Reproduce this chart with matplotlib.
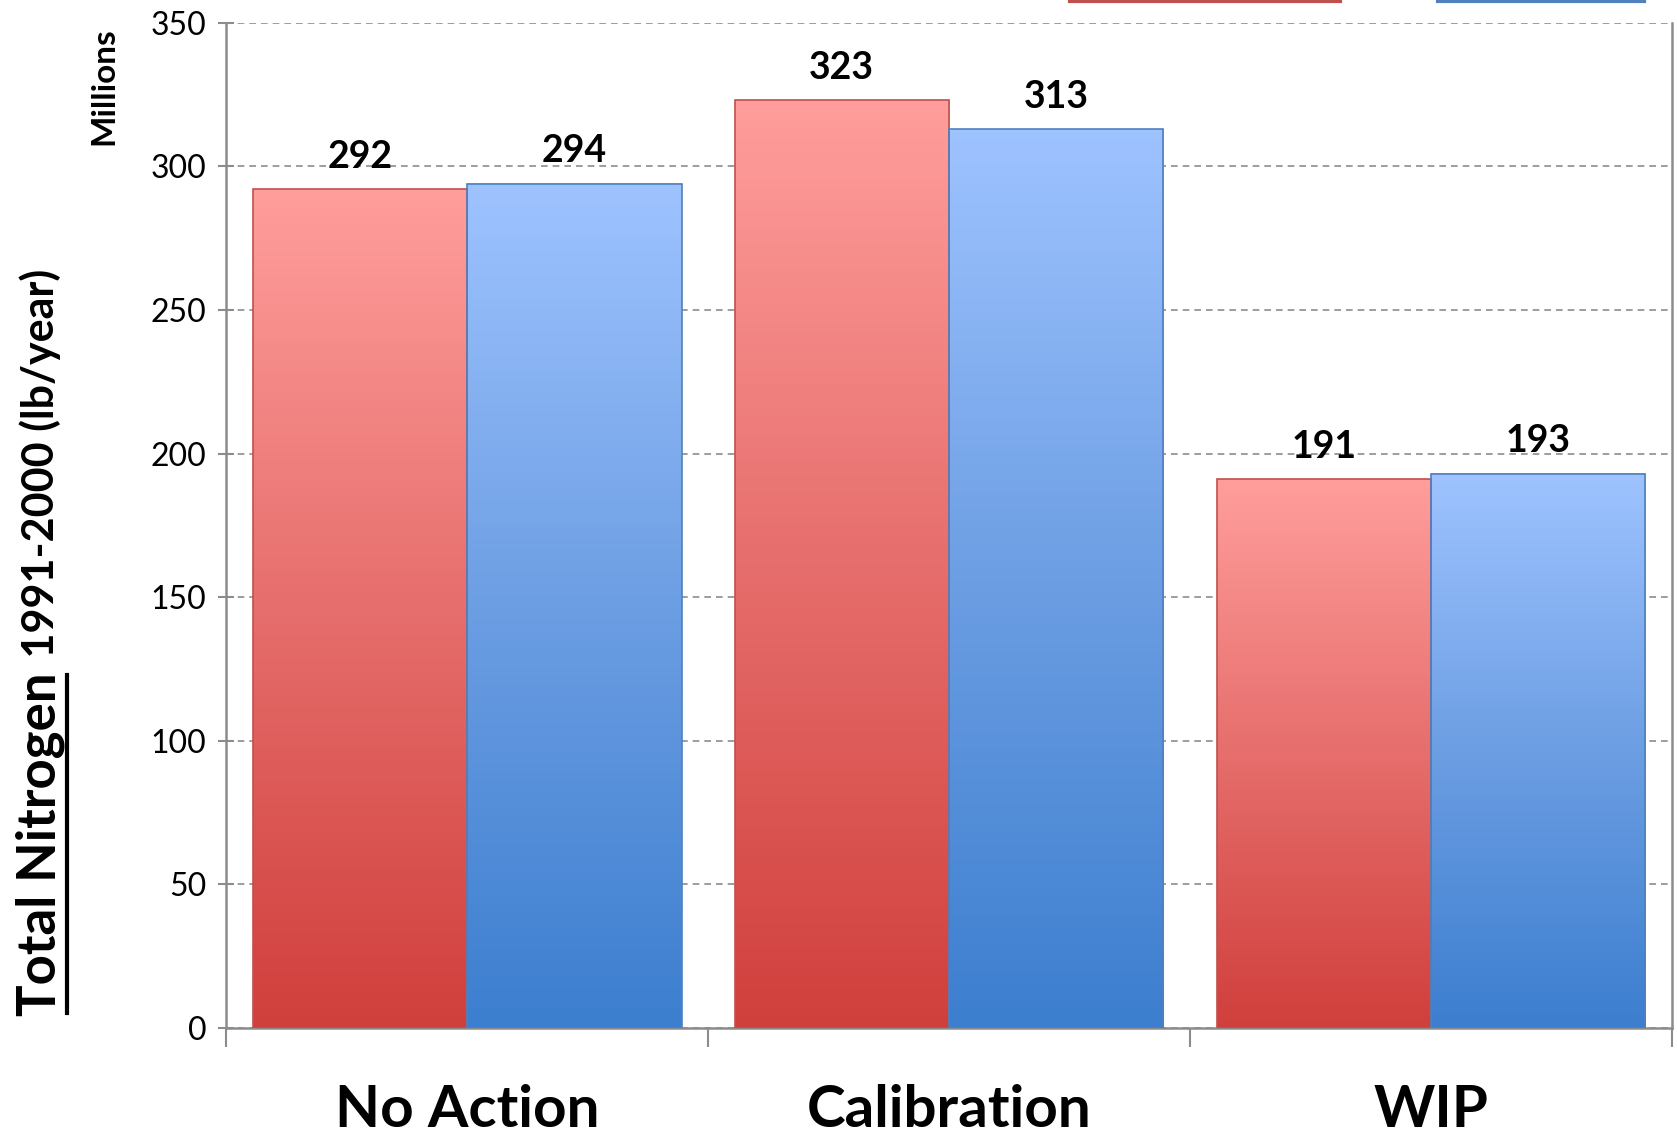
import numpy as np
import matplotlib
matplotlib.use("Agg")
import matplotlib.pyplot as plt
from matplotlib.colors import LinearSegmentedColormap
from matplotlib.lines import Line2D

categories = ["No Action", "Calibration", "WIP"]
series_red = [292, 323, 191]
series_blue = [294, 313, 193]
yticks = [0, 50, 100, 150, 200, 250, 300, 350]

plt.rcParams['font.family'] = ['Lato', 'DejaVu Sans']

fig = plt.figure(figsize=(16.77, 11.35), dpi=100)
ax = fig.add_axes([0.1348, 0.0943, 0.997 - 0.1348, 0.980 - 0.0943])

x = np.arange(len(categories))
w = 0.445
red_bars = ax.bar(x - w / 2, series_red, w, facecolor='none', edgecolor='#C0504D', linewidth=1.2, zorder=4)
blue_bars = ax.bar(x + w / 2, series_blue, w, facecolor='none', edgecolor='#4F81BD', linewidth=1.2, zorder=4)

red_cmap = LinearSegmentedColormap.from_list('r', ['#D03F3C', '#E66E6C', '#FF9E9C'])
blue_cmap = LinearSegmentedColormap.from_list('b', ['#3C7ECF', '#6C9EE3', '#9EC3FF'])
grad = np.linspace(0, 1, 256).reshape(-1, 1)

# градиентная заливка каждого столбика
for bars, cmap in [(red_bars, red_cmap), (blue_bars, blue_cmap)]:
    for p in bars:
        bx, bw, bh = p.get_x(), p.get_width(), p.get_height()
        ax.imshow(grad, cmap=cmap, origin='lower', aspect='auto',
                  extent=[bx, bx + bw, 0, bh], zorder=3)

for bars, vals in [(red_bars, series_red), (blue_bars, series_blue)]:
    for p, v in zip(bars, vals):
        ax.annotate(str(v), (p.get_x() + p.get_width() / 2, v), xytext=(0, 11),
                    textcoords='offset points', ha='center', va='bottom',
                    fontsize=27, fontweight='bold', zorder=5)

ax.set_xlim(-0.5, 2.5)
ax.set_ylim(0, 350)
ax.set_yticks(yticks)
ax.set_yticklabels([str(t) for t in yticks], fontsize=23)
ax.yaxis.grid(True, linestyle=(0, (4, 3)), color='#8C8C8C', linewidth=1.2)
ax.set_axisbelow(True)

ax.set_xticks([-0.5, 0.5, 1.5, 2.5])
ax.set_xticklabels([])
ax.set_xticks(x, minor=True)
ax.set_xticklabels(categories, minor=True, fontsize=42, fontweight='bold')
ax.tick_params(axis='x', which='minor', length=0, pad=40)
ax.tick_params(axis='x', which='major', length=14, color='#8C8C8C', width=1.5, direction='out')
ax.tick_params(axis='y', length=12, color='#8C8C8C', width=1.5, direction='inout', pad=8)

for s in ['left', 'bottom', 'right']:
    ax.spines[s].set_color('#8C8C8C')
    ax.spines[s].set_linewidth(1.8)
ax.spines['top'].set_visible(False)
for t in ax.get_xticklabels(minor=True):
    t.set_clip_on(False)

fig.text(0.062, 0.924, "Millions", rotation=90, ha='center', va='center',
         fontsize=24, fontweight='bold')

# подпись оси Y: подчёркнутая часть + остальное
t1 = fig.text(0.024, 1 - 1016 / 1135, "Total Nitrogen", rotation=90, ha='center',
              va='bottom', fontsize=38, fontweight='bold')
fig.canvas.draw()
r = fig.canvas.get_renderer()
bb = t1.get_window_extent(r).transformed(fig.transFigure.inverted())
fig.text(0.024, bb.y1 + 0.004, " 1991-2000 (lb/year)", rotation=90, ha='center',
         va='bottom', fontsize=31, fontweight='bold')
fig.add_artist(Line2D([bb.x1 + 0.001, bb.x1 + 0.001], [bb.y0 + 0.003, bb.y1 - 0.002],
                      transform=fig.transFigure, color='black', linewidth=3))

# обрезанная легенда сверху
fig.add_artist(Line2D([1070 / 1677, 1340 / 1677], [0.999, 0.999], transform=fig.transFigure,
                      color='#C0504D', linewidth=3))
fig.add_artist(Line2D([1438 / 1677, 1644 / 1677], [0.999, 0.999], transform=fig.transFigure,
                      color='#4F81BD', linewidth=3))

fig.savefig("out.png", dpi=100)
